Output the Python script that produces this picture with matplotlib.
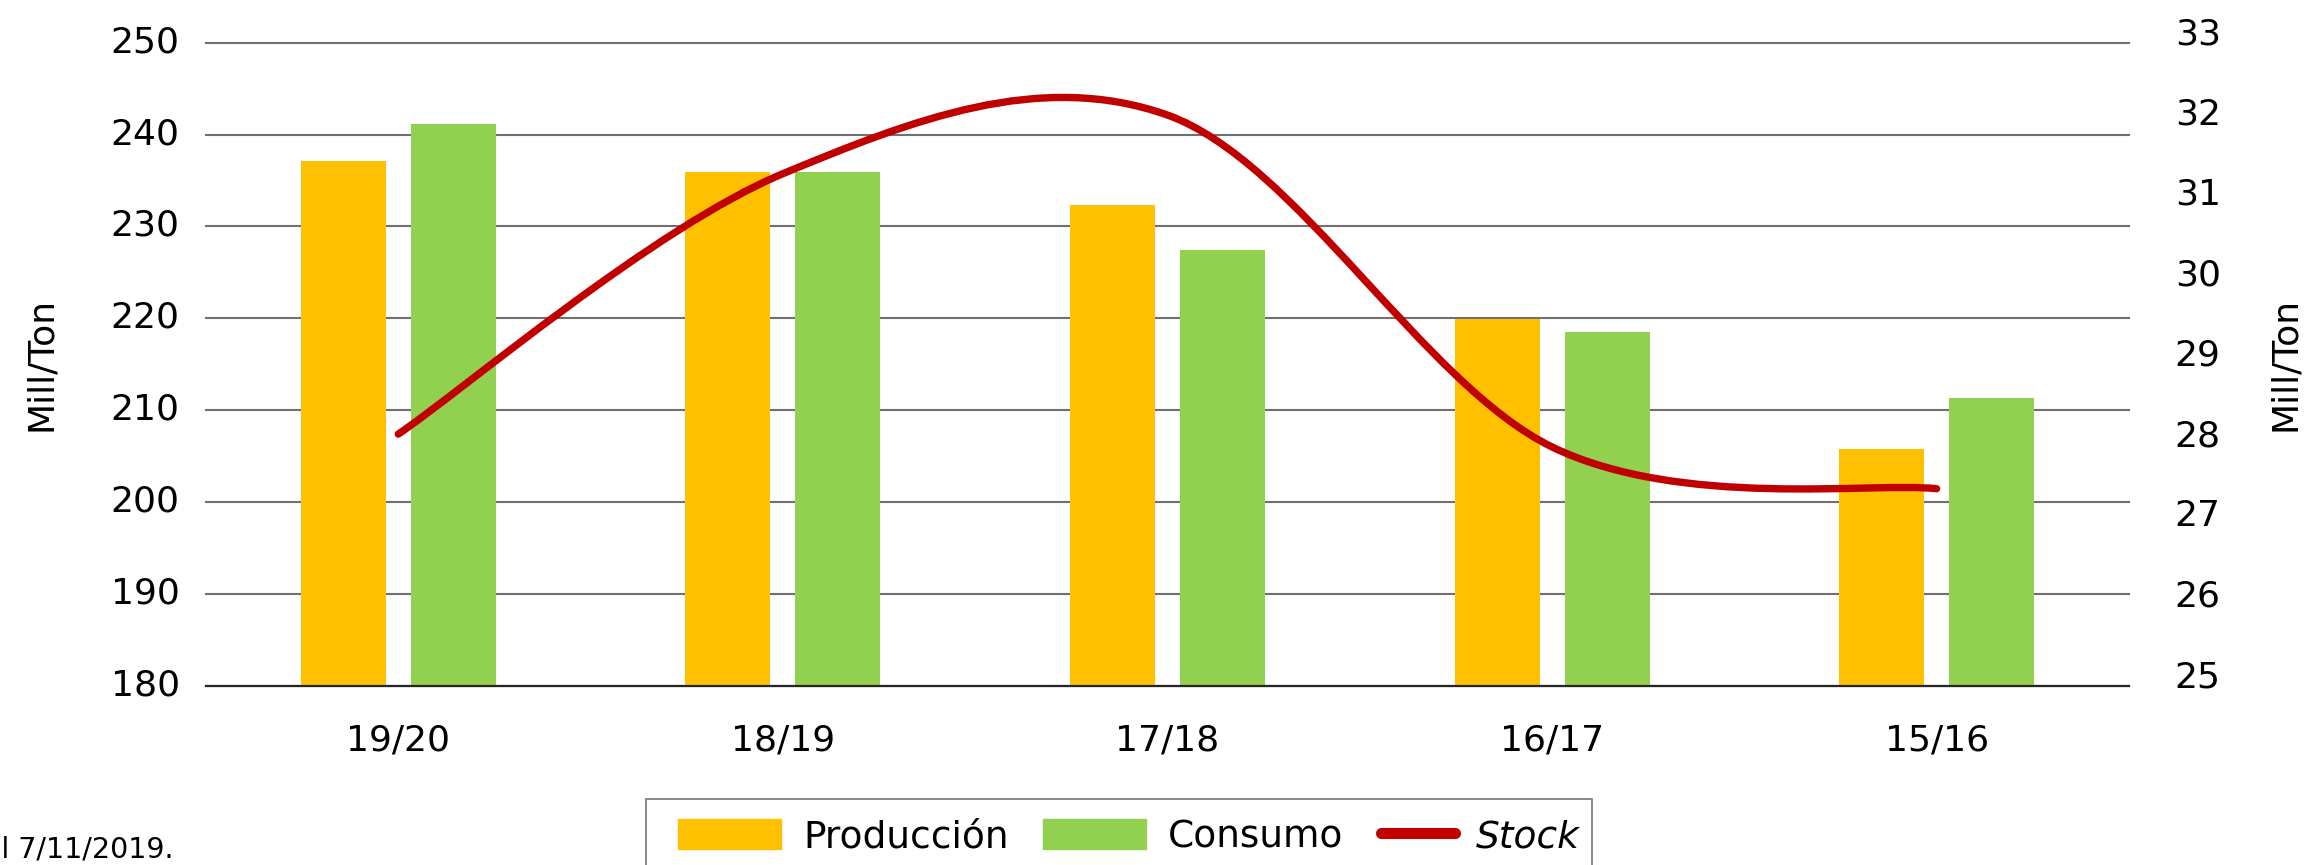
#!/usr/bin/env python3

import numpy as np
import matplotlib
matplotlib.use('Agg')
import matplotlib.pyplot as plt
from matplotlib.path import Path
from matplotlib.patches import PathPatch, Patch, Rectangle
from matplotlib.lines import Line2D
from matplotlib.legend_handler import HandlerLine2D
import matplotlib.transforms as mtransforms

plt.rcParams['font.family'] = ['DejaVu Sans']
plt.rcParams['font.size'] = 26

campaigns = ['19/20', '18/19', '17/18', '16/17', '15/16']
produccion = [237.1, 235.9, 232.3, 219.9, 205.8]
consumo = [241.2, 235.9, 227.4, 218.5, 211.3]
stock = [28.13, 31.37, 32.10, 27.97, 27.45]

left_ticks = [180, 190, 200, 210, 220, 230, 240, 250]
right_ticks = [25, 26, 27, 28, 29, 30, 31, 32, 33]

ORANGE = '#FFC000'
GREEN = '#92D050'
RED = '#C00000'
W, H = 2307, 865


def smooth_path(xs, ys):
    '''Excel style smoothed line: cubic bezier through every point'''
    pts = np.column_stack([xs, ys]).astype(float)
    n = len(pts)
    verts = [pts[0]]
    codes = [Path.MOVETO]
    for i in range(n - 1):
        p0 = pts[max(i - 1, 0)]
        p1 = pts[i]
        p2 = pts[i + 1]
        p3 = pts[min(i + 2, n - 1)]
        c1 = p1 + (p2 - p0) / 6
        c2 = p2 - (p3 - p1) / 6
        verts += [c1, c2, p2]
        codes += [Path.CURVE4] * 3
    return Path(verts, codes)


class ShortLine(HandlerLine2D):
    '''legend line a bit shorter than the patches, like the original'''
    def create_artists(self, legend, orig_handle, xdescent, ydescent,
                       width, height, fontsize, trans):
        return super().create_artists(legend, orig_handle, xdescent - 0.04 * width,
                                      ydescent, width * 0.72, height, fontsize, trans)


fig = plt.figure(figsize=(W / 100, H / 100), dpi=100)
ax = fig.add_axes([0.0893, 0.2074, 0.8335, 0.7432])

x = np.arange(len(campaigns))
ax.bar(x - 0.143, produccion, width=0.221, color=ORANGE, zorder=2)
ax.bar(x + 0.143, consumo, width=0.221, color=GREEN, zorder=2)

ax.set_xlim(-0.5, len(campaigns) - 0.5)
ax.set_ylim(180, 250)
ax.set_yticks(left_ticks)
ax.set_xticks(x)
ax.set_xticklabels(campaigns)
ax.yaxis.grid(True, color='#707070', linewidth=1.5)
for gl in ax.get_ygridlines():
    gl.set_clip_on(False)
ax.set_axisbelow(True)
for s in ['top', 'left', 'right']:
    ax.spines[s].set_visible(False)
ax.spines['bottom'].set_color('#262626')
ax.spines['bottom'].set_linewidth(1.6)
ax.tick_params(axis='both', length=0, colors='black')
ax.tick_params(axis='y', pad=19)
ax.tick_params(axis='x', pad=27)
ax.set_ylabel('Mill/Ton', labelpad=38)
up_l = mtransforms.ScaledTranslation(0, 4 / 100, fig.dpi_scale_trans)
for lab in ax.get_yticklabels():
    lab.set_transform(lab.get_transform() + up_l)

ax2 = ax.twinx()
ax2.set_ylim(25, 33)
ax2.set_yticks(right_ticks)
for s in ax2.spines.values():
    s.set_visible(False)
ax2.tick_params(axis='y', length=0, pad=33)
ax2.set_ylabel('Mill/Ton', labelpad=34)
up_r = mtransforms.ScaledTranslation(0, 12 / 100, fig.dpi_scale_trans)
for lab in ax2.get_yticklabels():
    lab.set_transform(lab.get_transform() + up_r)

curve = PathPatch(smooth_path(x, stock), fill=False, edgecolor=RED,
                  linewidth=5.3, capstyle='round', joinstyle='round',
                  transform=ax2.transData, zorder=3)
ax2.add_patch(curve)

# legend: box drawn separately so it can run off the bottom edge
handles = [Patch(color=ORANGE), Patch(color=GREEN),
           Line2D([], [], color=RED, linewidth=8, solid_capstyle='round')]
leg = fig.legend(handles, ['Producción', 'Consumo', 'Stock'], ncol=3,
                 loc='center left', bbox_to_anchor=(678 / W, 1 - 837 / H),
                 borderaxespad=0, borderpad=0, frameon=False, fontsize=27,
                 handlelength=2.75, handleheight=0.85, handletextpad=0.59,
                 columnspacing=0.9, handler_map={Line2D: ShortLine()})
stock_txt = leg.get_texts()[2]
stock_txt.set_style('italic')
stock_txt.set_transform(stock_txt.get_transform()
                        + mtransforms.ScaledTranslation(-26 / 100, 0, fig.dpi_scale_trans))
fig.add_artist(Rectangle((646 / W, -0.05), (1592 - 646) / W, 0.05 + 1 - 799 / H,
                         transform=fig.transFigure, fill=False,
                         edgecolor='#7f7f7f', linewidth=1.3))

fig.text(174 / W, 1 - 850 / H, 'al 7/11/2019.', ha='right', va='center',
         fontsize=20.5)

fig.savefig('out.png', dpi=100)
